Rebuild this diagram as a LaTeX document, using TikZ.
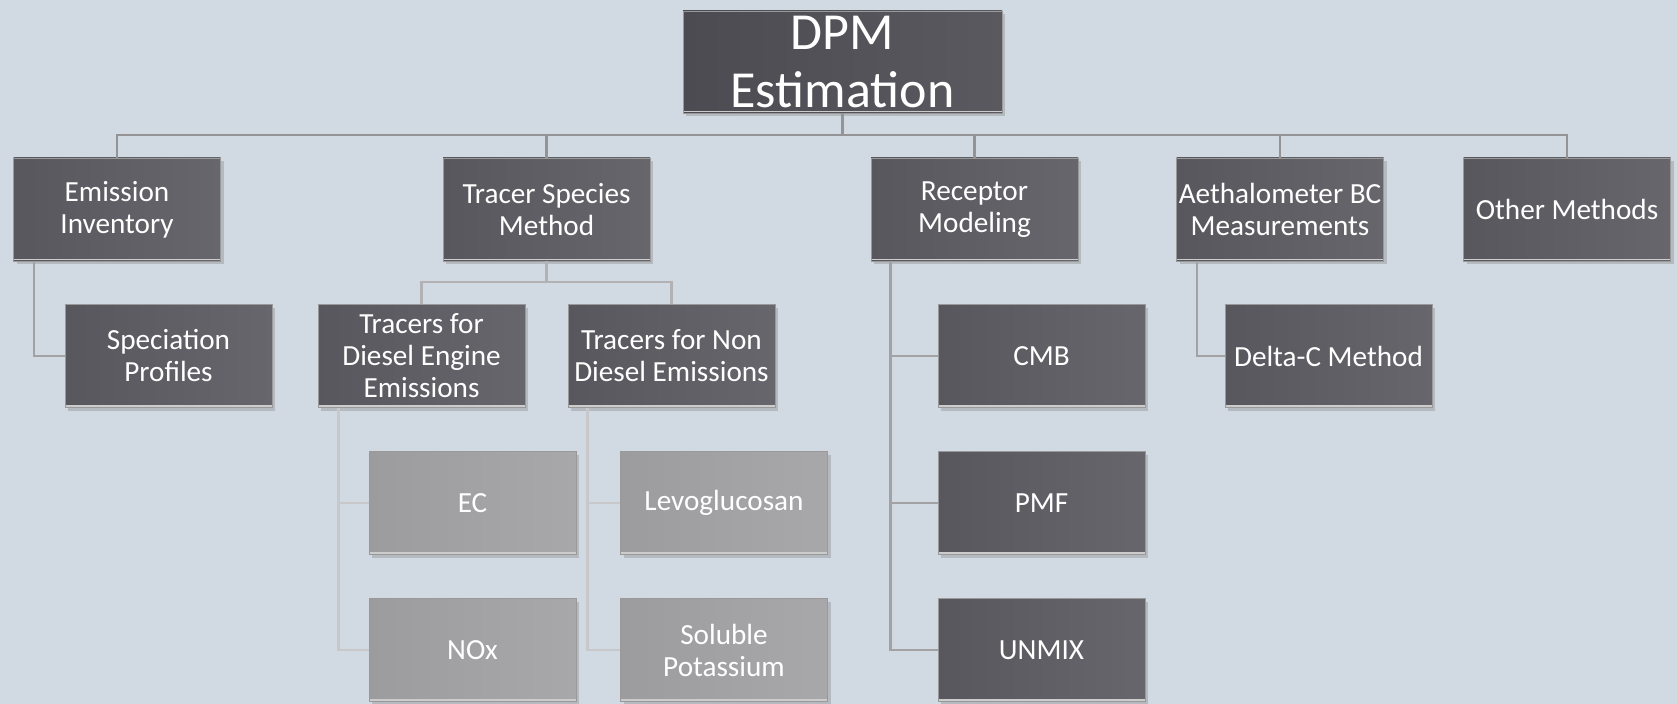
\documentclass[tikz,border=0pt]{standalone}
\usepackage{fontspec}
\setmainfont{Carlito}
\usetikzlibrary{shadows,calc}
\definecolor{paper}{RGB}{209,218,226}
\definecolor{darkl}{RGB}{88,87,93}
\definecolor{darkr}{RGB}{102,102,108}
\definecolor{rootl}{RGB}{76,75,81}
\definecolor{rootr}{RGB}{90,89,95}
\definecolor{lightl}{RGB}{156,156,158}
\definecolor{lightr}{RGB}{168,168,170}
\tikzstyle{method} = [rectangle, minimum width=103.5pt, minimum height=51.5pt, inner xsep=1pt, inner ysep=0pt,
	align=center, text=white, font=\fontsize{14.6pt}{16pt}\selectfont,
	left color=darkl, right color=darkr, draw=gray!80, line width=.4pt,
	drop shadow={shadow xshift=1.6pt, shadow yshift=-1.6pt, opacity=.35},
	path picture={\draw[white!60!gray, line width=.9pt] ([yshift=.7pt]path picture bounding box.south west) -- ([yshift=.7pt]path picture bounding box.south east);}]
\tikzstyle{root} = [method, minimum width=159.5pt, minimum height=51pt, font=\fontsize{26pt}{29pt}\selectfont, left color=rootl, right color=rootr]
\tikzstyle{tracer} = [method, left color=lightl, right color=lightr]
\tikzstyle{link} = [draw={rgb,255:red,148;green,148;blue,150}, line width=1.2pt]
\tikzstyle{sidelink} = [draw={rgb,255:red,162;green,162;blue,164}, line width=1.2pt]
\tikzstyle{tracerlink} = [draw={rgb,255:red,178;green,178;blue,180}, line width=1.2pt]
\tikzstyle{leaflink} = [draw={rgb,255:red,200;green,200;blue,202}, line width=1.2pt]

\begin{document}
\begin{tikzpicture}[x=.5pt, y=-.5pt]
	\fill[paper] (0,0) rectangle (1677,704);
	\useasboundingbox (0,0) rectangle (1677,704);
	\coordinate (bus) at (0,135);
	\coordinate (tbus) at (0,282);

	\node[root] (dpm) at (842.5,62) {DPM\\Estimation};

	% first row
	\node[method] (ei) at (117,209.5) {Emission\\Inventory};
	\node[method] (tsm) at (546.5,209.5) {Tracer Species\\Method};
	\node[method] (rm) at (974.5,209.5) {Receptor\\Modeling};
	\node[method] (abc) at (1280,209.5) {Aethalometer BC\\Measurements};
	\node[method] (om) at (1567,209.5) {Other Methods};

	% second row
	\node[method] (sp) at (168.5,356) {Speciation\\Profiles};
	\node[method] (tde) at (421.5,356) {Tracers for\\Diesel Engine\\Emissions};
	\node[method] (tnd) at (671.5,356) {Tracers for Non\\Diesel Emissions};
	\node[method] (cmb) at (1041.5,356) {CMB};
	\node[method] (dc) at (1328.5,356) {Delta-C Method};

	% third and fourth row
	\node[tracer] (ec) at (472.5,503) {EC};
	\node[tracer] (lev) at (724,503) {Levoglucosan};
	\node[method] (pmf) at (1041.5,503) {PMF};
	\node[tracer] (nox) at (472.5,650) {NOx};
	\node[tracer] (sk) at (724,650) {Soluble\\Potassium};
	\node[method] (unmix) at (1041.5,650) {UNMIX};

	\foreach \n in {ei,tsm,rm,abc,om}
		\draw[link] (dpm.south) -- (dpm.south |- bus) -| (\n.north);
	\foreach \n in {tde,tnd}
		\draw[tracerlink] (tsm.south) -- (tsm.south |- tbus) -| (\n.north);

	\draw[sidelink] ($(ei.south west)+(21,0)$) |- (sp.west);
	\draw[sidelink] ($(abc.south west)+(21,0)$) |- (dc.west);
	\foreach \n in {cmb,pmf,unmix}
		\draw[sidelink] ($(rm.south west)+(20,0)$) |- (\n.west);
	\foreach \n in {ec,nox}
		\draw[leaflink] ($(tde.south west)+(21,0)$) |- (\n.west);
	\foreach \n in {lev,sk}
		\draw[leaflink] ($(tnd.south west)+(20,0)$) |- (\n.west);
\end{tikzpicture}
\end{document}
